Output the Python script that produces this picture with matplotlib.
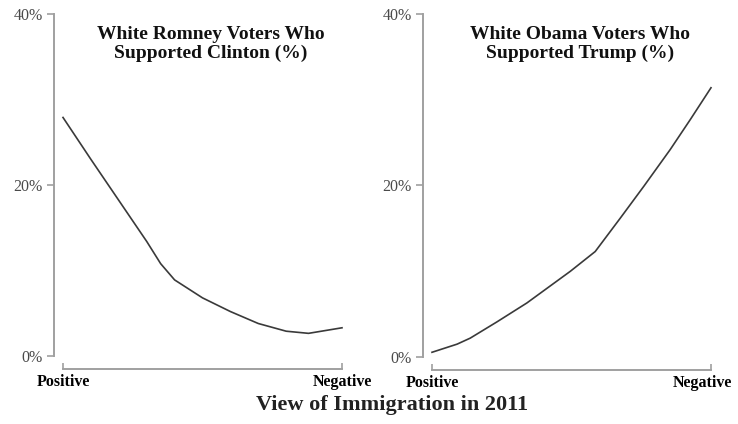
import matplotlib
matplotlib.use("Agg")
import matplotlib.pyplot as plt
import matplotlib.transforms as mtransforms
from matplotlib.ticker import FuncFormatter

# Data (x: 0 = Positive view, 1 = Negative view of immigration)
romney_x = [0.0, 0.1, 0.2, 0.3, 0.35, 0.4, 0.5, 0.6, 0.7, 0.8, 0.88, 1.0]
romney_clinton = [27.9, 23.0, 18.2, 13.4, 10.8, 8.9, 6.8, 5.2, 3.8, 2.9, 2.65, 3.3]

obama_x = [0.0, 0.09, 0.137, 0.233, 0.34, 0.496, 0.585, 0.675, 0.759, 0.854, 0.926, 1.0]
obama_trump = [0.55, 1.5, 2.2, 4.1, 6.3, 10.0, 12.3, 16.2, 19.9, 24.2, 27.7, 31.4]

titles = ["White Romney Voters Who\nSupported Clinton (%)",
          "White Obama Voters Who\nSupported Trump (%)"]
x_ticks = [0, 1]
x_tick_labels = ["Positive", "Negative"]
y_ticks = [0, 20, 40]
xlabel = "View of Immigration in 2011"

W, H = 738, 424
fig = plt.figure(figsize=(W / 100, H / 100), dpi=100)
plt.rcParams['font.family'] = ['Liberation Serif', 'DejaVu Serif']

def ax_rect(left_px, right_px, top_px, bottom_px):
    return [left_px / W, 1 - bottom_px / H, (right_px - left_px) / W, (bottom_px - top_px) / H]

panels = [
    (ax_rect(54, 350, 14, 356), romney_x, romney_clinton, titles[0], 0),
    (ax_rect(423, 719, 14, 357), obama_x, obama_trump, titles[1], -9),
]

spine_col = "#a0a0a0"
for rect, xs, ys, title, neg_shift in panels:
    ax = fig.add_axes(rect)
    ax.plot(xs, ys, color="#3a3a3a", lw=1.2)
    ax.set_ylim(0, 40)
    ax.set_xlim(-9 / 279, 1 + 8 / 279)
    for s in ["top", "right"]:
        ax.spines[s].set_visible(False)
    ax.spines["left"].set_color(spine_col)
    ax.spines["bottom"].set_color(spine_col)
    ax.spines["left"].set_linewidth(1.4)
    ax.spines["bottom"].set_linewidth(1.4)
    ax.spines["bottom"].set_position(("outward", 9))
    ax.spines["bottom"].set_bounds(0, 1)
    ax.set_yticks(y_ticks)
    ax.yaxis.set_major_formatter(FuncFormatter(lambda v, p: f"{int(v)}%"))
    ax.tick_params(axis="y", direction="out", length=5, width=1.2, color=spine_col,
                   labelsize=11.5, labelcolor="#4a4a4a", pad=3)
    ax.set_xticks(x_ticks)
    labels = ax.set_xticklabels(x_tick_labels, fontweight="bold", fontsize=11.5)
    ax.tick_params(axis="x", direction="in", length=4, width=1.2, color=spine_col, pad=4)
    if neg_shift:
        off = mtransforms.ScaledTranslation(neg_shift / 100, 0, fig.dpi_scale_trans)
        labels[1].set_transform(labels[1].get_transform() + off)
    ax.text(0.53, 0.965, title, transform=ax.transAxes, ha="center", va="top",
            fontsize=14, fontweight="bold", linespacing=1.1, color="#111111")

fig.text(392 / W, 1 - 405 / H, xlabel, ha="center", va="center", fontsize=16,
         fontweight="bold", color="#222222")

fig.savefig("out.png", dpi=100)
